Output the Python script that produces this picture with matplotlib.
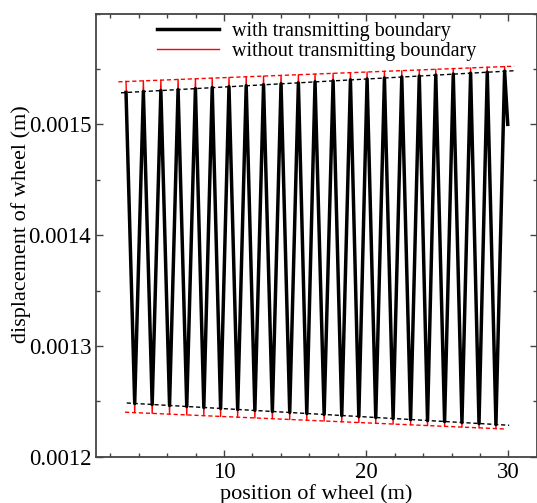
import numpy as np
import matplotlib
matplotlib.use('Agg')
from matplotlib import pyplot as plt
from matplotlib.ticker import MultipleLocator, FixedLocator

plt.rcParams['font.family'] = ['Liberation Serif', 'DejaVu Serif']
plt.rcParams['mathtext.fontset'] = 'stix'

# positions of the crests and troughs (m)
peak_x = [3.11, 4.33, 5.56, 6.77, 7.99, 9.17, 10.35, 11.56, 12.78, 14.01, 15.23, 16.40,
          17.67, 18.89, 20.06, 21.28, 22.50, 23.73, 24.89, 26.12, 27.34, 28.51, 29.73]
valley_x = [3.72, 4.95, 6.17, 7.38, 8.58, 9.76, 10.96, 12.17, 13.40, 14.62, 15.82,
            17.04, 18.28, 19.48, 20.67, 21.89, 23.12, 24.31, 25.51, 26.73, 27.93, 29.12]

# with transmitting boundary
with_peak = [0.0015288, 0.0015297, 0.0015306, 0.0015314, 0.0015323, 0.0015332, 0.0015340,
             0.0015349, 0.0015358, 0.0015367, 0.0015375, 0.0015384, 0.0015393, 0.0015402,
             0.0015410, 0.0015419, 0.0015428, 0.0015436, 0.0015445, 0.0015454, 0.0015462,
             0.0015471, 0.0015480]
with_valley = [0.0012481, 0.0012472, 0.0012463, 0.0012454, 0.0012445, 0.0012436, 0.0012427,
               0.0012418, 0.0012409, 0.0012400, 0.0012391, 0.0012382, 0.0012372, 0.0012363,
               0.0012354, 0.0012345, 0.0012336, 0.0012327, 0.0012318, 0.0012309, 0.0012300,
               0.0012291]

# without transmitting boundary
without_peak = [0.0015387, 0.0015393, 0.0015399, 0.0015406, 0.0015412, 0.0015418, 0.0015424,
                0.0015430, 0.0015436, 0.0015442, 0.0015448, 0.0015454, 0.0015461, 0.0015467,
                0.0015473, 0.0015479, 0.0015485, 0.0015491, 0.0015497, 0.0015504, 0.0015510,
                0.0015516, 0.0015522]
without_valley = [0.0012398, 0.0012391, 0.0012384, 0.0012377, 0.0012370, 0.0012364, 0.0012357,
                  0.0012350, 0.0012343, 0.0012336, 0.0012329, 0.0012322, 0.0012315, 0.0012309,
                  0.0012302, 0.0012295, 0.0012288, 0.0012281, 0.0012274, 0.0012267, 0.0012260,
                  0.0012254]

end_x = 29.95
end_y = 0.0015

# envelope lines (dashed)
env_with_up_x = [2.76, 30.37]
env_with_up_y = [0.0015285, 0.0015484]
env_with_lo_x = [3.16, 30.05]
env_with_lo_y = [0.0012485, 0.0012284]
env_without_up_x = [2.57, 30.40]
env_without_up_y = [0.0015384, 0.0015525]
env_without_lo_x = [3.04, 29.80]
env_without_lo_y = [0.0012402, 0.0012250]


def zigzag(px, py, vx, vy):
    xs, ys = [], []
    for i in range(len(px)):
        xs.append(px[i])
        ys.append(py[i])
        if i < len(vx):
            xs.append(vx[i])
            ys.append(vy[i])
    xs.append(end_x)
    ys.append(end_y)
    return xs, ys


wx, wy = zigzag(peak_x, with_peak, valley_x, with_valley)
ox, oy = zigzag(peak_x, without_peak, valley_x, without_valley)

fig = plt.figure(figsize=(5.37, 5.03), dpi=100)
ax = fig.add_axes([0.1788, 0.092, 0.821, 0.881])

ax.plot(ox, oy, color='red', lw=1.0, label='without transmitting boundary', zorder=2)
ax.plot(wx, wy, color='black', lw=2.5, label='with transmitting boundary', zorder=3)

dash = (0, (3, 2))
ax.plot(env_with_up_x, env_with_up_y, color='black', lw=1.0, ls=dash, zorder=4)
ax.plot(env_with_lo_x, env_with_lo_y, color='black', lw=1.0, ls=dash, zorder=4)
ax.plot(env_without_up_x, env_without_up_y, color='red', lw=1.0, ls=dash, zorder=4)
ax.plot(env_without_lo_x, env_without_lo_y, color='red', lw=1.0, ls=dash, zorder=4)

ax.set_xlim(1, 32)
ax.set_ylim(0.0012, 0.0016)
ax.xaxis.set_major_locator(FixedLocator([10, 20, 30]))
ax.xaxis.set_minor_locator(MultipleLocator(2))
ax.yaxis.set_major_locator(FixedLocator([0.0012, 0.0013, 0.0014, 0.0015]))
ax.yaxis.set_minor_locator(MultipleLocator(0.00005))
ax.yaxis.set_major_formatter(matplotlib.ticker.FuncFormatter(lambda v, p: '%.4f' % v))

ax.tick_params(which='both', direction='in', top=True, right=True, labelsize=16.5,
               color='#444444')
ax.tick_params(which='major', length=5, width=1.0)
ax.tick_params(which='minor', length=3, width=1.0)
for s in ax.spines.values():
    s.set_color('#444444')
    s.set_linewidth(1.3)

ax.set_xlabel('position of wheel (m)', fontsize=16, labelpad=1)
ax.set_ylabel('displacement of wheel (m)', fontsize=16)
ax.yaxis.set_label_coords(-0.148, 0.525)

handles, labels = ax.get_legend_handles_labels()
ax.legend(handles[::-1], labels[::-1], loc='upper center', frameon=False, fontsize=14.5,
          handlelength=3.1, labelspacing=0.05, borderaxespad=0.0, handletextpad=0.6)

fig.savefig('out.png', dpi=100)
